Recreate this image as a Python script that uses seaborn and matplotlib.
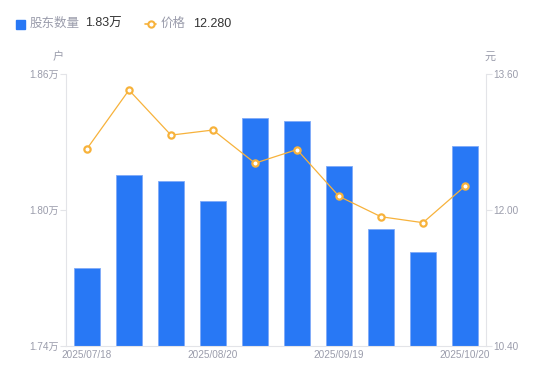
import numpy as np
import pandas as pd
import seaborn as sns
import matplotlib.pyplot as plt
from matplotlib.lines import Line2D
from matplotlib.patches import Rectangle

# data
dates = ["2025/07/18", "2025/07/31", "2025/08/10", "2025/08/20", "2025/08/31",
         "2025/09/10", "2025/09/19", "2025/09/30", "2025/10/10", "2025/10/20"]
holders = [1.7744, 1.8155, 1.8127, 1.8038, 1.8405, 1.8392, 1.8193, 1.7915, 1.7814, 1.8284]
price = [12.72, 13.41, 12.88, 12.94, 12.55, 12.71, 12.16, 11.92, 11.85, 12.28]
left_ticks = [1.74, 1.80, 1.86]
right_ticks = [10.40, 12.00, 13.60]

BLUE = "#2878F5"
ORANGE = "#F7B23B"
GRAY = "#9A9CAB"
DARK = "#333333"
AXIS = "#E3E4E8"

sns.set_style("white")
plt.rcParams["font.family"] = ["Liberation Sans", "Noto Sans CJK SC", "DejaVu Sans"]

df = pd.DataFrame({"date": dates, "holders": holders, "price": price})
df["pos"] = np.arange(len(df))

fig = plt.figure(figsize=(5.5, 3.81), dpi=100)
ax = fig.add_axes([0.12, 0.092, 0.7636, 0.714])

sns.barplot(data=df, x="pos", y="holders", color=BLUE, width=0.6,
            saturation=1, ax=ax, edgecolor="#7FAAF8", linewidth=0.6)
ax.set_ylim(1.74, 1.86)
ax.set_xlim(-0.5, len(df) - 0.5)

ax2 = ax.twinx()
sns.lineplot(data=df, x="pos", y="price", color=ORANGE, linewidth=0.9, ax=ax2,
             marker="o", markersize=4.5, markerfacecolor="white",
             markeredgecolor=ORANGE, markeredgewidth=1.6)
ax2.set_ylim(10.40, 13.60)
ax2.set_xlim(-0.5, len(df) - 0.5)

# axes styling
for a in (ax, ax2):
    a.set_xlabel("")
    a.set_ylabel("")
    for s in a.spines.values():
        s.set_visible(False)

ax.spines["left"].set_visible(True)
ax.spines["left"].set_color(AXIS)
ax.spines["bottom"].set_visible(True)
ax.spines["bottom"].set_color(AXIS)
ax2.spines["right"].set_visible(True)
ax2.spines["right"].set_color(AXIS)

ax.set_yticks(left_ticks)
ax.set_yticklabels([f"{v:.2f}万" for v in left_ticks])
ax2.set_yticks(right_ticks)
ax2.set_yticklabels([f"{v:.2f}" for v in right_ticks])

ax.set_xticks(df["pos"][::3])
ax.set_xticklabels(df["date"][::3])

ax.tick_params(axis="y", length=4, width=0.8, color=AXIS, labelcolor=GRAY,
               labelsize=7.2, pad=1)
ax2.tick_params(axis="y", length=4, width=0.8, color=AXIS, labelcolor=GRAY,
                labelsize=7.2, pad=1)
ax.tick_params(axis="x", length=0, labelcolor=GRAY, labelsize=7.2, pad=3)

# unit labels
fig.text(58 / 550, 1 - 57 / 381, "户", color=GRAY, fontsize=8, ha="center", va="center")
fig.text(490 / 550, 1 - 57 / 381, "元", color=GRAY, fontsize=8, ha="center", va="center")

# legend row
fig.patches.append(Rectangle((16 / 550, 1 - 29 / 381), 9 / 550, 9 / 381,
                             transform=fig.transFigure, color=BLUE))
fig.text(30 / 550, 1 - 24 / 381, "股东数量", color=GRAY, fontsize=9, va="center")
fig.text(85 / 550, 1 - 24 / 381, "1.83万", color=DARK, fontsize=9, va="center")
fig.lines.append(Line2D([145 / 550, 156 / 550], [1 - 24 / 381, 1 - 24 / 381],
                        transform=fig.transFigure, color=ORANGE, linewidth=1.2))
fig.lines.append(Line2D([150.5 / 550], [1 - 24 / 381], transform=fig.transFigure,
                        color=ORANGE, marker="o", markersize=4.5,
                        markerfacecolor="white", markeredgewidth=1.5,
                        linestyle="none"))
fig.text(161 / 550, 1 - 24 / 381, "价格", color=GRAY, fontsize=9, va="center")
fig.text(193 / 550, 1 - 24 / 381, "12.280", color=DARK, fontsize=9, va="center")

fig.savefig("out.png", dpi=100)
